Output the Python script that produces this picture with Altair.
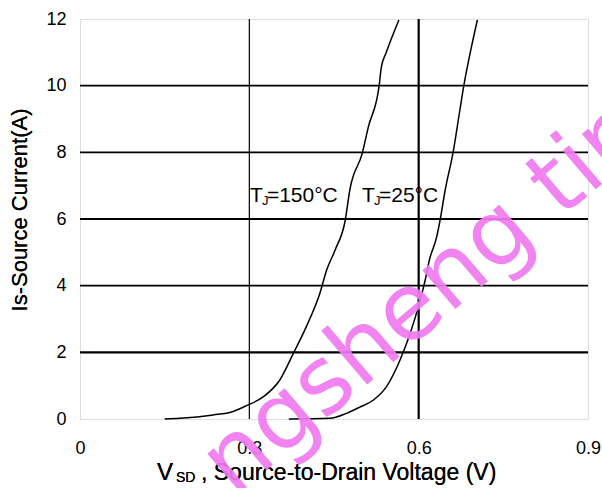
import altair as alt
import pandas as pd

# Source-drain diode forward characteristic, Is vs VSD
v150 = [0.15, 0.177, 0.236, 0.27, 0.295, 0.325, 0.354, 0.378, 0.401, 0.425, 0.437,
        0.452, 0.470, 0.478, 0.500, 0.511, 0.530, 0.534, 0.542, 0.565]
i150 = [0.0, 0.02, 0.12, 0.22, 0.40, 0.67, 1.17, 1.97, 2.77, 3.77, 4.47,
        5.07, 5.97, 6.87, 7.97, 8.77, 10.0, 10.57, 10.97, 11.97]

v25 = [0.37, 0.443, 0.472, 0.495, 0.520, 0.543, 0.567, 0.585, 0.600, 0.612, 0.619,
       0.632, 0.638, 0.647, 0.661, 0.673, 0.680, 0.694, 0.704]
i25 = [0.0, 0.02, 0.17, 0.35, 0.57, 0.97, 1.77, 2.57, 3.40, 4.20, 4.77,
       5.47, 5.97, 6.87, 8.0, 9.27, 10.0, 11.2, 11.97]

x_ticks = [0, 0.3, 0.6, 0.9]
y_ticks = [0, 2, 4, 6, 8, 10, 12]

hgrid_levels = [2, 4, 6, 8, 10]
hgrid_widths = [2.2, 1.6, 2.2, 1.6, 1.6]
vgrid_levels = [0.3, 0.6]
vgrid_widths = [1.2, 2.2]

label_temps = ["=150°C", "=25°C"]
label_v = [0.301, 0.4996]
label_i = [6.51, 6.51]

watermark_text = ["ngsheng tin"]
watermark_v = [0.273]
watermark_i = [-2.37]

FONT = "Liberation Sans"

curves = pd.DataFrame(
    {"v": v150 + v25, "i": i150 + i25,
     "tj": ["150"] * len(v150) + ["25"] * len(v25)}
)
hgrid = pd.DataFrame({"level": hgrid_levels, "w": hgrid_widths})
vgrid = pd.DataFrame({"level": vgrid_levels, "w": vgrid_widths})
labels = pd.DataFrame({"v": label_v, "i": label_i, "txt": label_temps})
wm = pd.DataFrame({"v": watermark_v, "i": watermark_i, "txt": watermark_text})

xscale = alt.Scale(domain=[0, 0.9], nice=False, zero=False)
yscale = alt.Scale(domain=[0, 12], nice=False, zero=False)

xaxis = alt.Axis(values=x_ticks, grid=False, ticks=False, domain=False, title=None,
                 labelExpr="datum.value == 0 ? '0' : format(datum.value, '.1f')",
                 labelFont=FONT, labelFontSize=18, labelColor="black",
                 labelPadding=20, labelFlush=False)
yaxis = alt.Axis(values=y_ticks, grid=False, ticks=False, domain=False, title=None,
                 labelFont=FONT, labelFontSize=18, labelColor="black",
                 labelPadding=14, labelFlush=False)


def X(field):
    return alt.X(field, type="quantitative", scale=xscale, axis=xaxis)


def Y(field):
    return alt.Y(field, type="quantitative", scale=yscale, axis=yaxis)


h_rules = alt.Chart(hgrid).mark_rule(color="black").encode(
    y=Y("level"), size=alt.Size("w:Q", scale=None, legend=None)
)
v_rules = alt.Chart(vgrid).mark_rule(color="black").encode(
    x=X("level"), size=alt.Size("w:Q", scale=None, legend=None)
)

lines = alt.Chart(curves).mark_line(color="black", strokeWidth=1.5,
                                    interpolate="monotone").encode(
    x=X("v"), y=Y("i"), detail="tj:N"
)

lab_base = alt.Chart(labels).encode(x=X("v"), y=Y("i"))
lab_t = lab_base.mark_text(text="T", font=FONT, fontSize=21, align="left",
                           baseline="alphabetic", color="black")
lab_j = lab_base.mark_text(text="J", font=FONT, fontSize=13, align="left",
                           baseline="alphabetic", color="black", dx=12, dy=3)
lab_rest = lab_base.mark_text(font=FONT, fontSize=21, align="left",
                              baseline="alphabetic", color="black", dx=17).encode(
    text="txt:N"
)

# x-axis title with subscript
xt_v = alt.Chart(labels).mark_text(text="V", font=FONT, fontSize=24, align="left",
                                   baseline="alphabetic", color="black").encode(
    x=alt.value(77), y=alt.value(461))
xt_sd = alt.Chart(labels).mark_text(text="SD", font=FONT, fontSize=14, align="left",
                                    baseline="alphabetic", color="black").encode(
    x=alt.value(96), y=alt.value(463))
xt_rest = alt.Chart(labels).mark_text(text=", Source-to-Drain Voltage (V)", font=FONT,
                                      fontSize=23, align="left",
                                      baseline="alphabetic", color="black").encode(
    x=alt.value(121), y=alt.value(461))

# y-axis title
yt = alt.Chart(labels).mark_text(text="Is-Source Current(A)", font=FONT, fontSize=22,
                                 align="center", baseline="middle", angle=270,
                                 color="black").encode(
    x=alt.value(-60), y=alt.value(191))

watermark = alt.Chart(wm).mark_text(font="DejaVu Sans", fontSize=93, align="left",
                                    baseline="alphabetic", angle=319.5,
                                    color="#F07AF0", opacity=0.92).encode(
    x=X("v"), y=Y("i"), text="txt:N"
)

chart = alt.layer(
    h_rules, v_rules, lines, lab_t, lab_j, lab_rest, xt_v, xt_sd, xt_rest, yt, watermark
).properties(
    width=508, height=400,
    autosize=alt.AutoSizeParams(type="none"),
    padding={"left": 80, "top": 19, "right": 14, "bottom": 69},
).configure_view(
    stroke="black", strokeWidth=2
).configure(background="white")

chart.save("out.html", embed_options={"renderer": "svg", "actions": False})
